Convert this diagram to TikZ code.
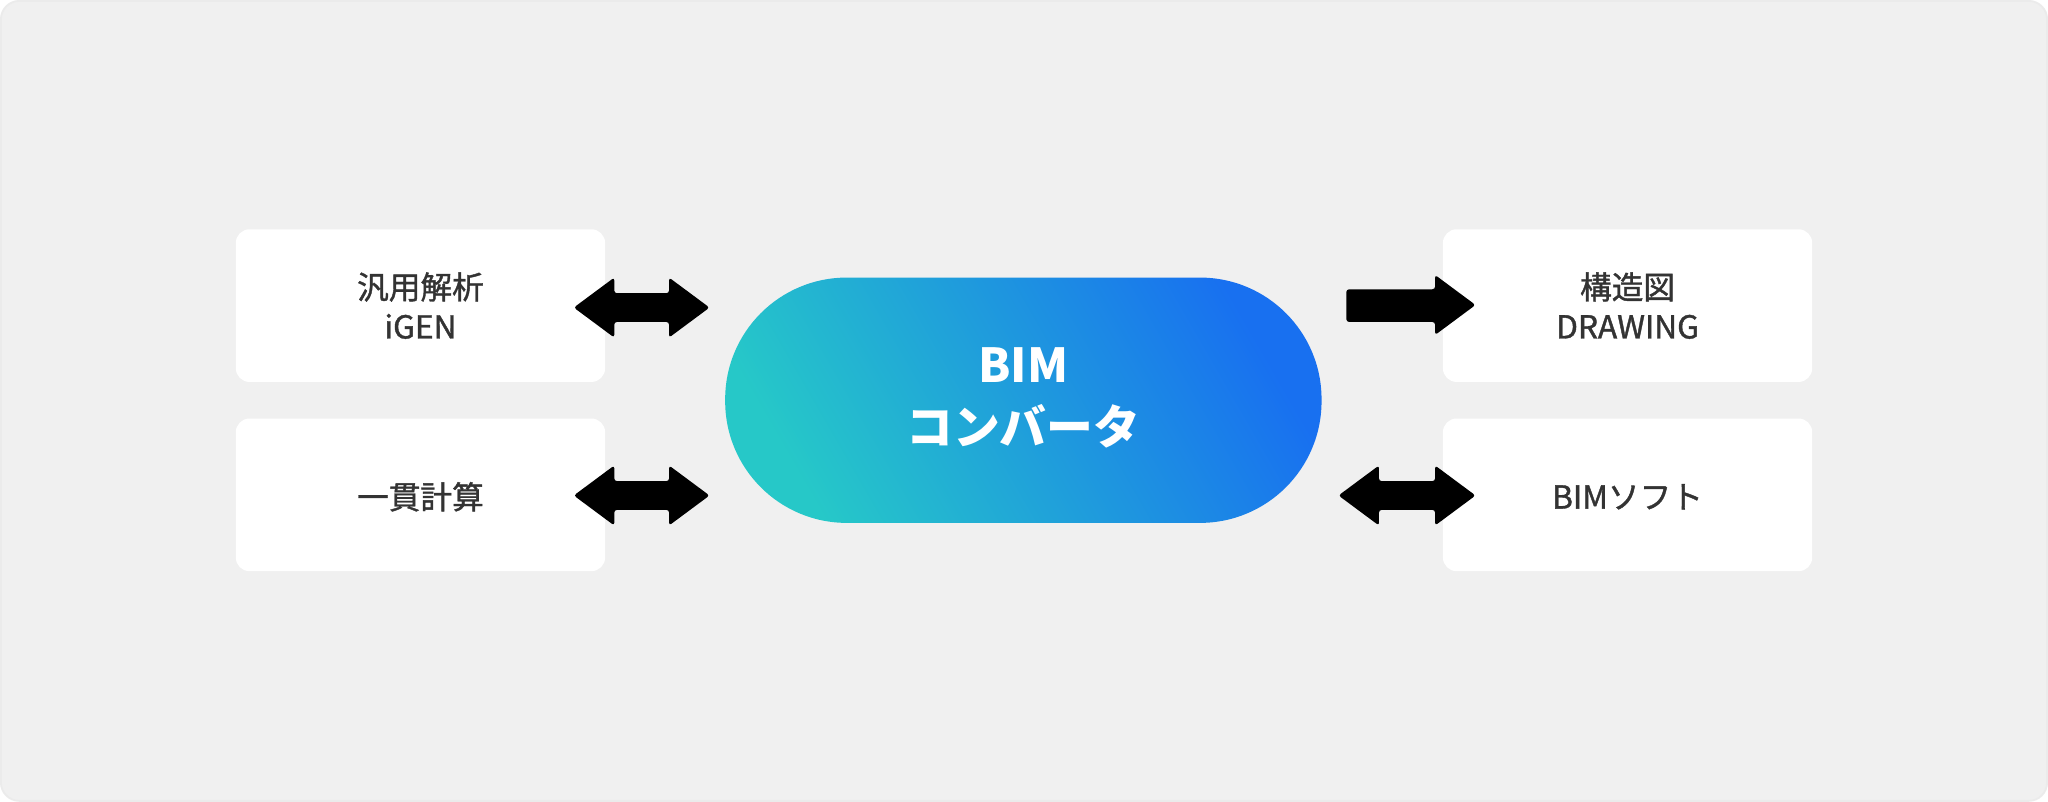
\documentclass[tikz,border=0pt]{standalone}
\usepackage{fontspec}
\setmainfont{Noto Sans CJK JP}
\newfontfamily\medf{Noto Sans CJK JP}[BoldFont=Noto Sans CJK JP, BoldFeatures={FakeBold=1.2}]
\begin{document}
\begin{tikzpicture}[x=0.01cm,y=-0.01cm,
  box/.style={fill=white,rounded corners=3pt},
  lbl/.style={font=\medf\bfseries\fontsize{6.9pt}{8.6pt}\selectfont,text=black!80,align=center},
  arr/.style={fill=black,rounded corners=0.6pt}]
\definecolor{bgc}{HTML}{F0F0F0}
\definecolor{tealc}{HTML}{26C8C8}
\definecolor{bluec}{HTML}{1870F0}
\newcommand{\dblarr}[3]{\fill[arr] (#1,#3) -- ({#1+31},{#3-23}) -- ({#1+31},{#3-11}) -- ({#2-31},{#3-11}) -- ({#2-31},{#3-23}) -- (#2,#3) -- ({#2-31},{#3+23}) -- ({#2-31},{#3+11}) -- ({#1+31},{#3+11}) -- ({#1+31},{#3+23}) -- cycle;}
\newcommand{\oneway}[3]{\fill[arr] (#1,{#3-12}) -- ({#2-31},{#3-12}) -- ({#2-31},{#3-23}) -- (#2,#3) -- ({#2-31},{#3+23}) -- ({#2-31},{#3+13}) -- (#1,{#3+13}) -- cycle;}
\fill[bgc,draw=black!8,rounded corners=4pt] (0,0) rectangle (1568,613);
\useasboundingbox (0,0) rectangle (1568,613);
\fill[box] (180,175) rectangle (463,292);
\node[lbl] (a) at (321.5,233.5) {汎用解析\\iGEN};
\fill[box] (180,320) rectangle (463,437);
\node[lbl] (b) at (321.5,380) {一貫計算};
\fill[box] (1105,175) rectangle (1388,292);
\node[lbl] (c) at (1246.5,233.5) {構造図\\DRAWING};
\fill[box] (1105,320) rectangle (1388,437);
\node[lbl] (d) at (1246.5,380) {BIMソフト};
\shade[rounded corners=26.5pt,left color=tealc,right color=bluec,shading angle=120] (555,212) rectangle (1012,400);
\node[font=\bfseries\fontsize{10.2pt}{13.6pt}\selectfont,text=white,align=center] (m) at (783.5,304) {BIM\\コンバータ};
\dblarr{439}{543}{235}
\dblarr{439}{543}{379}
\oneway{1031}{1130}{233}
\dblarr{1025}{1130}{379}
\end{tikzpicture}
\end{document}
